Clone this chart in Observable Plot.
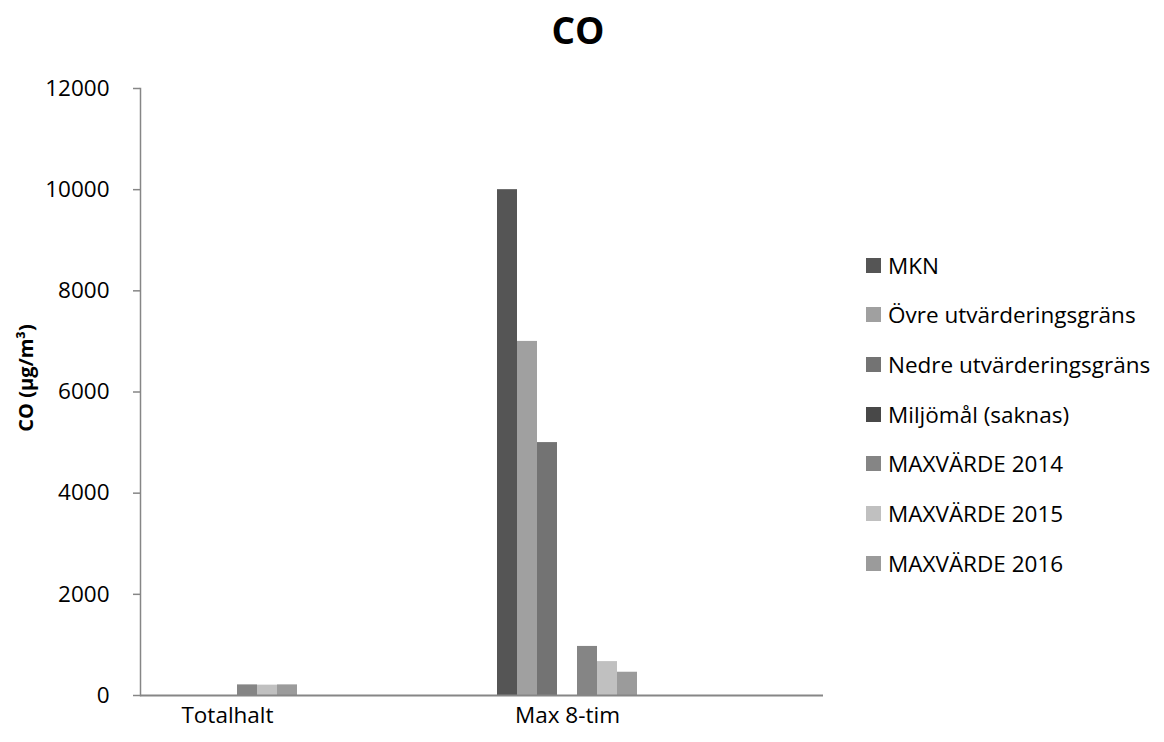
<!DOCTYPE html>
<html>
<head>
<meta charset="utf-8">
<script src="https://cdn.jsdelivr.net/npm/d3@7"></script>
<script src="https://cdn.jsdelivr.net/npm/@observablehq/plot@0.6"></script>
<style>
  body { margin: 0; background: #fff; font-family: "Open Sans", sans-serif; }
  #wrap { position: relative; width: 1164px; height: 742px; overflow: hidden; }
  #wrap svg { position: absolute; left: 0; top: 0; }
  #title { position: absolute; left: 0; width: 1156px; top: 6px; text-align: center; font-weight: bold; font-size: 37px; color: #000; line-height: 48px; }
  #ytitle { position: absolute; left: 25px; top: 378px; transform: translate(-50%, -50%) rotate(-90deg); font-weight: bold; font-size: 20px; white-space: nowrap; color: #000; }
  #legend { position: absolute; left: 866px; top: 251px; }
  .row { position: absolute; left: 0; height: 28px; display: flex; align-items: center; white-space: nowrap; font-size: 22.5px; color: #000; }
  .sw { width: 15px; height: 15px; margin-right: 7px; flex: none; }
</style>
</head>
<body>
<div id="wrap">
  <div id="title">CO</div>
  <div id="ytitle">CO (µg/m³)</div>
  <div id="legend"></div>
</div>
<script>
// ---- data ----
const categories = ["Totalhalt", "Max 8-tim"];
const series = [
  "MKN",
  "Övre utvärderingsgräns",
  "Nedre utvärderingsgräns",
  "Miljömål (saknas)",
  "MAXVÄRDE 2014",
  "MAXVÄRDE 2015",
  "MAXVÄRDE 2016"
];
const totalhaltValues = [null, null, null, null, 210, 205, 210];
const max8timValues = [10000, 7000, 5000, null, 970, 670, 460];
const yTicks = [0, 2000, 4000, 6000, 8000, 10000, 12000];

// ---- styles ----
const seriesColors = ["#555555", "#a0a0a0", "#737373", "#484848", "#858585", "#c0c0c0", "#9b9b9b"];
const padSlots = [10, 9]; // empty slots after each category group

const valuesByCategory = [totalhaltValues, max8timValues];
const rows = [];
categories.forEach((c, ci) => {
  series.forEach((s, si) => {
    const v = valuesByCategory[ci][si];
    if (v != null) rows.push({category: c, series: s, value: v, key: c + "|" + s});
  });
});
const domain = [];
categories.forEach((c, ci) => {
  series.forEach(s => domain.push(c + "|" + s));
  for (let i = 0; i < padSlots[ci]; i++) domain.push(c + "|pad" + i);
});
const labelKeys = categories.map(c => c + "|" + series[3]);
const labelOf = new Map(categories.map(c => [c + "|" + series[3], c]));

const plot = Plot.plot({
  width: 1164,
  height: 742,
  marginTop: 88,
  marginBottom: 47,
  marginLeft: 140,
  marginRight: 341,
  style: {fontFamily: "Open Sans, sans-serif", fontSize: "22.5px", color: "#000", background: "transparent"},
  x: {domain, paddingInner: 0, paddingOuter: 0.465, align: 0.74, axis: null},
  y: {domain: [0, 12000], axis: null},
  color: {domain: series, range: seriesColors},
  marks: [
    Plot.barY(rows, {x: "key", y: "value", fill: "series", insetLeft: 0, insetRight: 0}),
    Plot.axisY({ticks: yTicks, tickFormat: d3.format("d"), tickSize: 7, tickPadding: 24, stroke: "#868686", strokeWidth: 1.5, label: null, fontSize: 22.5}),
    Plot.axisX({ticks: labelKeys, tickFormat: k => labelOf.get(k), tickSize: 0, tickPadding: 12, label: null, fontSize: 22.5}),
    Plot.frame({anchor: "left", stroke: "#868686", strokeWidth: 1.5}),
    Plot.ruleY([0], {stroke: "#868686", strokeWidth: 2})
  ]
});
document.getElementById("wrap").prepend(plot);

const color = plot.scale("color");
const legend = document.getElementById("legend");
color.domain.forEach((s, i) => {
  const row = document.createElement("div");
  row.className = "row";
  row.style.top = (i * 49.7) + "px";
  const sw = document.createElement("span");
  sw.className = "sw";
  sw.style.background = color.range[i];
  const t = document.createElement("span");
  t.textContent = s;
  row.appendChild(sw);
  row.appendChild(t);
  legend.appendChild(row);
});
</script>
</body>
</html>
